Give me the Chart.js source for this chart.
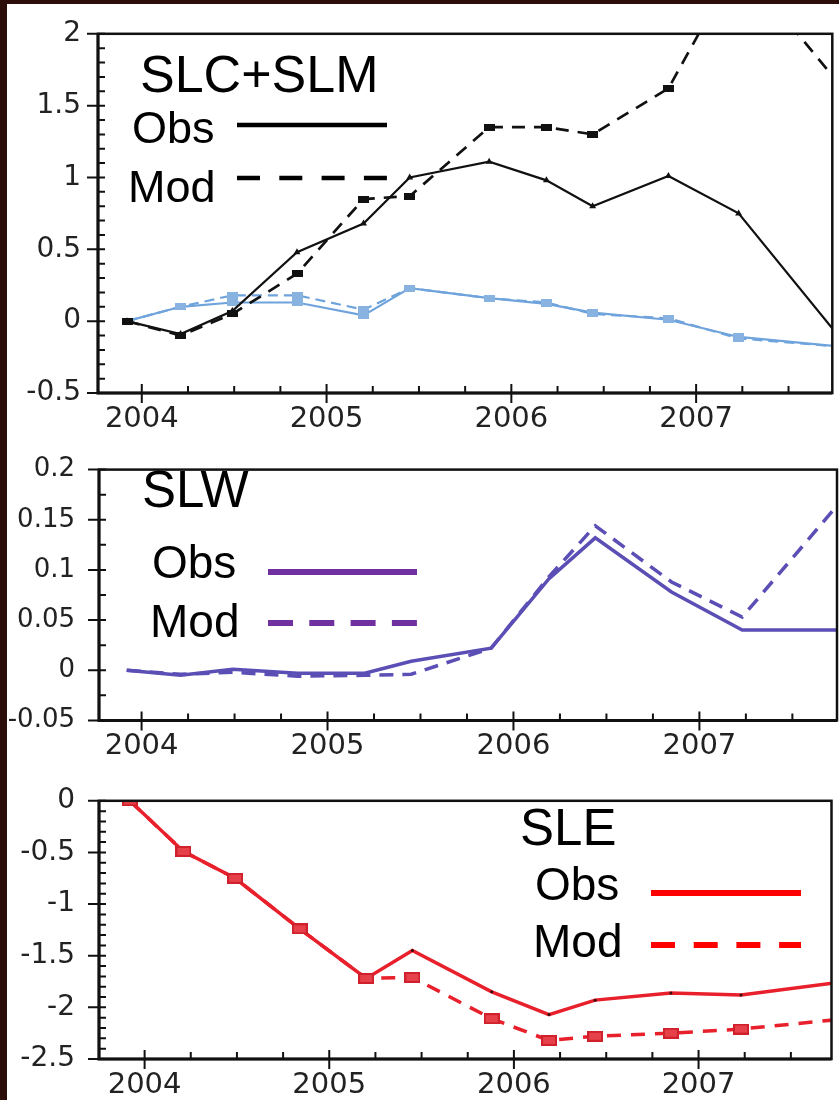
<!DOCTYPE html>
<html>
<head>
<meta charset="utf-8">
<script src="https://cdn.jsdelivr.net/npm/chart.js@4.4.0/dist/chart.umd.min.js"></script>
<style>
  body { margin: 0; background: #fff; }
  #wrap { position: relative; width: 839px; height: 1100px; background: #fff; overflow: hidden; }
  .edge-top { position: absolute; left: 0; top: 0; width: 839px; height: 4px; background: #2b0e09; }
  .edge-left { position: absolute; left: 0; top: 0; width: 7px; height: 1100px; background: #2b0e09; }
  canvas { position: absolute; left: 0; }
</style>
</head>
<body>
<div id="wrap">
  <div class="edge-top"></div>
  <div class="edge-left"></div>
  <canvas id="p1" width="839" height="430" style="top:0"></canvas>
  <canvas id="p2" width="839" height="330" style="top:430px"></canvas>
  <canvas id="p3" width="839" height="340" style="top:760px"></canvas>
</div>
<script>
// sample dates (decimal years) shared by all three panels
const years = [2003.92, 2004.21, 2004.49, 2004.84, 2005.20, 2005.45, 2005.88, 2006.19, 2006.44, 2006.85, 2007.23, 2007.80];
const xTickYears = [2004, 2005, 2006, 2007];

// SLC+SLM panel
const slcObs = [0, -0.09, 0.07, 0.48, 0.68, 1.0, 1.11, 0.98, 0.80, 1.01, 0.75, -0.15];
const slcMod = [0, -0.10, 0.05, 0.33, 0.85, 0.87, 1.35, 1.35, 1.30, 1.62, 2.5, 1.61];
const blueObs = [0, 0.10, 0.13, 0.13, 0.04, 0.23, 0.16, 0.12, 0.06, 0.01, -0.11, -0.18];
const blueMod = [0, 0.10, 0.18, 0.18, 0.08, 0.23, 0.16, 0.13, 0.05, 0.02, -0.12, -0.18];
const slcTicks = [2, 1.5, 1, 0.5, 0, -0.5];

// SLW panel
const slwObs = [0, -0.005, 0.001, -0.003, -0.003, 0.009, 0.022, 0.091, 0.132, 0.078, 0.040, 0.040];
const slwMod = [0, -0.004, -0.002, -0.006, -0.005, -0.004, 0.022, 0.093, 0.144, 0.088, 0.053, 0.177];
const slwTicks = [0.2, 0.15, 0.1, 0.05, 0, -0.05];

// SLE panel
const sleObs = [0, -0.49, -0.75, -1.24, -1.72, -1.45, -1.85, -2.07, -1.93, -1.86, -1.88, -1.75];
const sleMod = [0, -0.49, -0.75, -1.24, -1.72, -1.71, -2.11, -2.32, -2.28, -2.25, -2.21, -2.11];
const sleTicks = [0, -0.5, -1, -1.5, -2, -2.5];

const pts = ys => years.map((x, i) => ({ x: x, y: ys[i] }));

// small rectangular markers like the original plot
function marker(w, h, fill, stroke) {
  const c = document.createElement('canvas');
  c.width = w; c.height = h;
  const g = c.getContext('2d');
  g.fillStyle = fill;
  g.fillRect(0, 0, w, h);
  if (stroke) { g.strokeStyle = stroke; g.lineWidth = 2; g.strokeRect(1, 1, w - 2, h - 2); }
  return c;
}

// frame + ticks drawn from the chart scales
const axisFrame = {
  id: 'axisFrame',
  afterDraw(chart, args, o) {
    const { ctx, chartArea: a, scales: { x, y } } = chart;
    ctx.save();
    ctx.strokeStyle = '#111';
    ctx.lineWidth = 2.5;
    ctx.strokeRect(a.left, a.top, a.right - a.left, a.bottom - a.top);
    ctx.lineWidth = 3;
    ctx.beginPath();
    ctx.moveTo(a.left, a.top); ctx.lineTo(a.left, a.bottom); ctx.lineTo(a.right, a.bottom);
    ctx.stroke();
    ctx.lineWidth = 2;
    ctx.beginPath();
    const n0 = Math.ceil(y.min / o.yMinor - 1e-6), n1 = Math.floor(y.max / o.yMinor + 1e-6);
    for (let n = n0; n <= n1; n++) {
      const py = y.getPixelForValue(n * o.yMinor);
      ctx.moveTo(a.left, py); ctx.lineTo(a.left + 7, py);
    }
    y.ticks.forEach(t => {
      const py = y.getPixelForValue(t.value);
      ctx.moveTo(a.left - 11, py); ctx.lineTo(a.left, py);
    });
    const m0 = Math.ceil(x.min * 4), m1 = Math.floor(x.max * 4);
    for (let m = m0; m <= m1; m++) {
      const px = x.getPixelForValue(m / 4);
      ctx.moveTo(px, a.bottom); ctx.lineTo(px, a.bottom - 7);
    }
    x.ticks.forEach(t => {
      const px = x.getPixelForValue(t.value);
      ctx.moveTo(px, a.bottom - 9); ctx.lineTo(px, a.bottom + 10);
    });
    ctx.stroke();
    ctx.restore();
  }
};

// in-plot key: title, Obs / Mod labels and line samples
const panelKey = {
  id: 'panelKey',
  afterDraw(chart, args, o) {
    const ctx = chart.ctx;
    ctx.save();
    ctx.fillStyle = '#000';
    ctx.textBaseline = 'alphabetic';
    ctx.textAlign = 'left';
    ctx.font = o.titleSize + 'px "Liberation Sans", Arial, sans-serif';
    ctx.fillText(o.title, o.titleX, o.titleY);
    o.rows.forEach(r => {
      ctx.fillStyle = '#000';
      ctx.font = o.rowSize + 'px "Liberation Sans", Arial, sans-serif';
      ctx.fillText(r.text, r.x, r.y);
      ctx.strokeStyle = o.color;
      ctx.lineWidth = o.lineWidth;
      ctx.setLineDash(r.dash || []);
      ctx.beginPath();
      ctx.moveTo(o.x0, r.lineY); ctx.lineTo(o.x1, r.lineY);
      ctx.stroke();
    });
    ctx.restore();
  }
};

function makePanel(id, cfg) {
  return new Chart(document.getElementById(id), {
    type: 'line',
    data: { datasets: cfg.datasets },
    options: {
      responsive: false,
      animation: false,
      devicePixelRatio: 1,
      layout: { padding: { left: 0, right: 2, top: cfg.top, bottom: 0 } },
      plugins: {
        legend: { display: false },
        tooltip: { enabled: false },
        axisFrame: { yMinor: cfg.yMinor },
        panelKey: cfg.key
      },
      elements: { line: { tension: 0 } },
      scales: {
        x: {
          type: 'linear',
          min: cfg.xMin,
          max: cfg.xMax,
          afterBuildTicks: s => { s.ticks = xTickYears.map(v => ({ value: v })); },
          afterFit: s => { s.height = cfg.xHeight; },
          grid: { display: false, drawTicks: false },
          border: { display: false },
          ticks: {
            padding: 9,
            maxRotation: 0,
            autoSkip: false,
            color: '#222',
            font: { family: '"DejaVu Sans", sans-serif', size: 29 },
            callback: v => String(Math.round(v))
          }
        },
        y: {
          min: cfg.yMin,
          max: cfg.yMax,
          afterBuildTicks: s => { s.ticks = cfg.yTicks.map(v => ({ value: v })); },
          afterFit: s => { s.width = cfg.yWidth; },
          grid: { display: false, drawTicks: false },
          border: { display: false },
          ticks: {
            padding: cfg.yPad,
            autoSkip: false,
            color: '#222',
            font: { family: cfg.yFont, size: cfg.ySize },
            callback: v => String(v)
          }
        }
      }
    },
    plugins: [axisFrame, panelKey]
  });
}

const blackSq = marker(11, 7, '#111');
const blueSq = marker(11, 7, '#88b3e0');
const redSq = marker(16, 11, '#e6404a', '#d0202c');

makePanel('p1', {
  top: 27, xHeight: 37, yWidth: 98, yPad: 17,
  xMin: 2003.763, xMax: 2007.737,
  yMin: -0.5, yMax: 2, yTicks: slcTicks, yMinor: 0.1,
  yFont: '"DejaVu Sans", sans-serif', ySize: 28,
  key: {
    title: 'SLC+SLM', titleX: 140, titleY: 92, titleSize: 52, rowSize: 45,
    color: '#000', lineWidth: 4.5, x0: 237, x1: 387,
    rows: [
      { text: 'Obs', x: 132, y: 143, lineY: 125 },
      { text: 'Mod', x: 128, y: 202, lineY: 178, dash: [23, 19.3] }
    ]
  },
  datasets: [
    { label: 'Obs', data: pts(slcObs), borderColor: '#111', borderWidth: 2.2,
      pointStyle: 'triangle', pointRadius: 4, pointBackgroundColor: '#111', pointBorderWidth: 0 },
    { label: 'Mod', data: pts(slcMod), borderColor: '#111', borderWidth: 2.7, borderDash: [13, 9],
      pointStyle: blackSq },
    { label: 'Obs (blue)', data: pts(blueObs), borderColor: '#6fa3dc', borderWidth: 2.2,
      pointStyle: blueSq },
    { label: 'Mod (blue)', data: pts(blueMod), borderColor: '#6fa3dc', borderWidth: 2.2, borderDash: [10, 6],
      pointStyle: blueSq }
  ]
});

makePanel('p2', {
  top: 13, xHeight: 37, yWidth: 99, yPad: 24,
  xMin: 2003.771, xMax: 2007.74,
  yMin: -0.05, yMax: 0.2, yTicks: slwTicks, yMinor: 0.025,
  yFont: '"DejaVu Sans", sans-serif', ySize: 26,
  key: {
    title: 'SLW', titleX: 142, titleY: 77, titleSize: 51, rowSize: 46,
    color: '#7030a0', lineWidth: 6, x0: 268, x1: 417,
    rows: [
      { text: 'Obs', x: 152, y: 148, lineY: 142 },
      { text: 'Mod', x: 150, y: 207, lineY: 193, dash: [25, 16.3] }
    ]
  },
  datasets: [
    { label: 'Obs', data: pts(slwObs), borderColor: '#5b4fb5', borderWidth: 3.5, pointRadius: 0 },
    { label: 'Mod', data: pts(slwMod), borderColor: '#5b4fb5', borderWidth: 3.5, borderDash: [14, 9], pointRadius: 0 }
  ]
});

makePanel('p3', {
  top: 29, xHeight: 41, yWidth: 99, yPad: 24,
  xMin: 2003.753, xMax: 2007.72,
  yMin: -2.5, yMax: 0, yTicks: sleTicks, yMinor: 0.1,
  yFont: '"DejaVu Sans", sans-serif', ySize: 28,
  key: {
    title: 'SLE', titleX: 520, titleY: 85, titleSize: 51, rowSize: 46,
    color: '#ff0000', lineWidth: 6, x0: 651, x1: 801,
    rows: [
      { text: 'Obs', x: 535, y: 140, lineY: 133 },
      { text: 'Mod', x: 533, y: 197, lineY: 185, dash: [24, 18.7] }
    ]
  },
  datasets: [
    { label: 'Mod', data: pts(sleMod), borderColor: '#e8202c', borderWidth: 3.5, borderDash: [14, 10],
      pointStyle: redSq },
    { label: 'Obs', data: pts(sleObs), borderColor: '#e8202c', borderWidth: 3.5,
      pointRadius: 1.5, pointBackgroundColor: '#3a0a0a', pointBorderWidth: 0 }
  ]
});
</script>
</body>
</html>
